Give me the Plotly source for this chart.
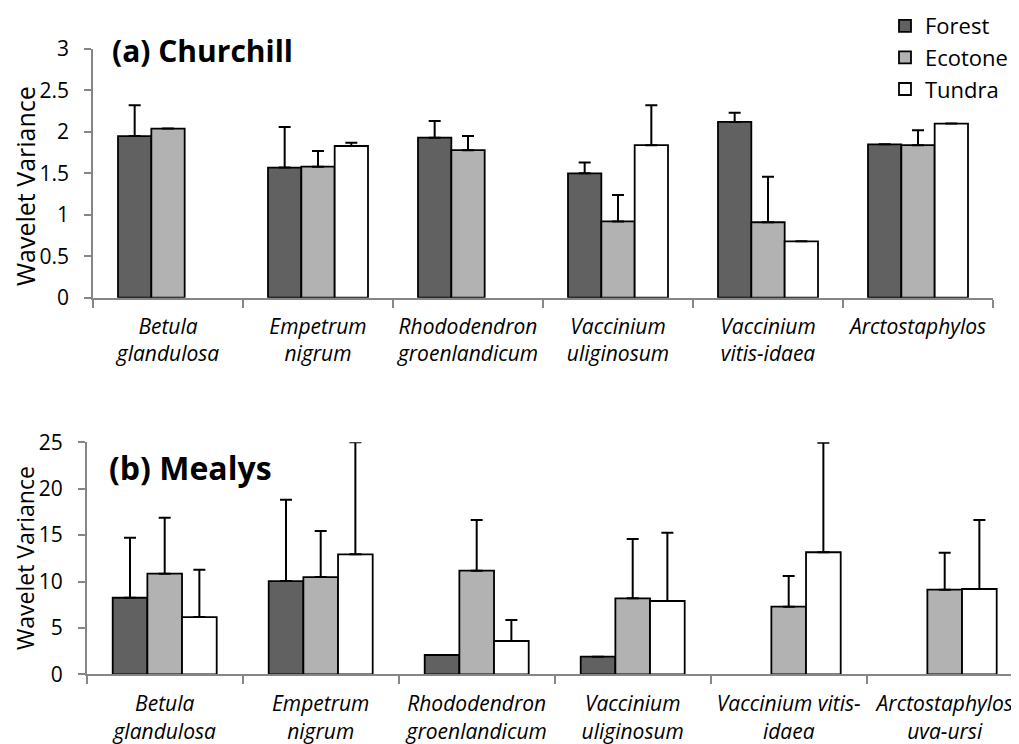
import plotly.graph_objects as go

W, H = 1019, 744
OFF = 8  # page body margin offset in the browser

species_top = ["Betula glandulosa", "Empetrum nigrum", "Rhododendron groenlandicum",
               "Vaccinium uliginosum", "Vaccinium vitis-idaea", "Arctostaphylos"]
labels_top = ["<i>Betula</i><br><i>glandulosa</i>", "<i>Empetrum</i><br><i>nigrum</i>",
              "<i>Rhododendron</i><br><i>groenlandicum</i>", "<i>Vaccinium</i><br><i>uliginosum</i>",
              "<i>Vaccinium</i><br><i>vitis-idaea</i>", "<i>Arctostaphylos</i>"]

species_bot = ["Betula glandulosa", "Empetrum nigrum", "Rhododendron groenlandicum",
               "Vaccinium uliginosum", "Vaccinium vitis-idaea", "Arctostaphylos uva-ursi"]
labels_bot = ["<i>Betula</i><br><i>glandulosa</i>", "<i>Empetrum</i><br><i>nigrum</i>",
              "<i>Rhododendron</i><br><i>groenlandicum</i>", "<i>Vaccinium</i><br><i>uliginosum</i>",
              "<i>Vaccinium vitis-</i><br><i>idaea</i>", "<i>Arctostaphylos</i><br><i>uva-ursi</i>"]

yticks_top = [0, 0.5, 1, 1.5, 2, 2.5, 3]
yticklabels_top = ["0", "0.5", "1", "1.5", "2", "2.5", "3"]
yticks_bot = [0, 5, 10, 15, 20, 25]
yticklabels_bot = ["0", "5", "10", "15", "20", "25"]

# (a) Churchill
forest_a = [1.95, 1.57, 1.93, 1.50, 2.12, 1.85]
forest_a_err = [0.37, 0.49, 0.20, 0.13, 0.11, None]
ecotone_a = [2.04, 1.58, 1.78, 0.92, 0.91, 1.84]
ecotone_a_err = [None, 0.19, 0.17, 0.32, 0.55, 0.18]
tundra_a = [None, 1.83, None, 1.84, 0.68, 2.10]
tundra_a_err = [None, 0.04, None, 0.48, None, None]

# (b) Mealys
forest_b = [8.25, 10.05, 2.08, 1.90, None, None]
forest_b_err = [6.47, 8.77, None, None, None, None]
ecotone_b = [10.84, 10.48, 11.17, 8.19, 7.29, 9.12]
ecotone_b_err = [6.04, 4.96, 5.46, 6.39, 3.30, 3.98]
tundra_b = [6.17, 12.93, 3.59, 7.90, 13.15, 9.19]
tundra_b_err = [5.10, 12.07, 2.26, 7.36, 11.81, 7.44]

series_names = ["Forest", "Ecotone", "Tundra"]
colors = ["#616161", "#b2b2b2", "#ffffff"]
y_title = "Wavelet Variance"

FONT = "Open Sans"
PAD = "\u00a0\u00a0"

fig = go.Figure()

def add_bars(xcats, vals_list, errs_list, xa, ya, showlegend):
    for name, col, vals, errs in zip(series_names, colors, vals_list, errs_list):
        fig.add_trace(go.Bar(
            x=xcats, y=vals, name=name, legendgroup=name, showlegend=showlegend,
            marker=dict(color=col, line=dict(color="#000000", width=1.8)),
            error_y=dict(type="data", symmetric=False, array=errs,
                         arrayminus=[0] * len(errs), color="#000000",
                         thickness=2, width=6),
            xaxis=xa, yaxis=ya,
        ))

add_bars(species_top, [forest_a, ecotone_a, tundra_a],
         [forest_a_err, ecotone_a_err, tundra_a_err], "x", "y", True)
add_bars(species_bot, [forest_b, ecotone_b, tundra_b],
         [forest_b_err, ecotone_b_err, tundra_b_err], "x2", "y2", False)

axcol = "#868686"
tickfont = dict(family=FONT, size=21, color="#000000")
xtickfont = dict(family=FONT, size=21, color="#000000")

def px_x(p):
    return (p - OFF) / W

def px_y(p):
    return 1 - (p - OFF) / H

b_left = 86.7
b_cat = 156.0
b_range_end = -0.5 + (W + OFF - b_left) / b_cat

common_x = dict(tickson="boundaries", ticks="outside", ticklen=8, tickcolor=axcol, tickwidth=1.5,
                showline=True, linecolor=axcol, linewidth=1.8, automargin=False, tickangle=0,
                showgrid=False, zeroline=False, tickfont=xtickfont)
common_y = dict(ticks="outside", ticklen=7, tickcolor=axcol, tickwidth=1.5,
                showline=True, linecolor=axcol, linewidth=1.8, automargin=False,
                showgrid=False, zeroline=False, tickfont=tickfont)

fig.update_layout(
    width=W, height=H,
    margin=dict(l=0, r=0, t=0, b=0, autoexpand=False),
    paper_bgcolor="white", plot_bgcolor="white",
    barmode="group", bargap=1/3, bargroupgap=0,
    font=dict(family=FONT, color="#000000"),
    xaxis=dict(domain=[px_x(93), px_x(993)], anchor="y",
               categoryorder="array", categoryarray=species_top,
               tickmode="array", tickvals=species_top, ticktext=labels_top,
               range=[-0.5, 5.5], ticklabelstandoff=9, **common_x),
    yaxis=dict(domain=[px_y(297.7), px_y(49)], anchor="x",
               range=[0, 3], tickmode="array", tickvals=yticks_top,
               ticktext=[t + PAD for t in yticklabels_top],
               **common_y),
    xaxis2=dict(domain=[px_x(b_left), 1.0], anchor="y2",
                categoryorder="array", categoryarray=species_bot,
                tickmode="array", tickvals=species_bot, ticktext=labels_bot,
                range=[-0.5, b_range_end], ticklabelstandoff=10, **common_x),
    yaxis2=dict(domain=[px_y(674.3), px_y(442.3)], anchor="x2",
                range=[0, 25], tickmode="array", tickvals=yticks_bot,
                ticktext=[t + PAD for t in yticklabels_bot],
                **common_y),
    legend=dict(x=px_x(885), y=px_y(5), xanchor="left", yanchor="top",
                font=dict(family=FONT, size=22, color="#000000"),
                bgcolor="rgba(0,0,0,0)", tracegroupgap=0, itemwidth=30),
    annotations=[
        dict(text="<b>(a) Churchill</b>", x=px_x(110), y=px_y(51), xref="paper", yref="paper",
             xanchor="left", yanchor="middle", showarrow=False,
             font=dict(family=FONT, size=30, color="#000000")),
        dict(text="<b>(b) Mealys</b>", x=px_x(107), y=px_y(467), xref="paper", yref="paper",
             xanchor="left", yanchor="middle", showarrow=False,
             font=dict(family=FONT, size=32, color="#000000")),
        dict(text=y_title, textangle=-90, x=px_x(25), y=px_y(186), xref="paper", yref="paper",
             xanchor="center", yanchor="middle", showarrow=False,
             font=dict(family=FONT, size=25, color="#000000")),
        dict(text=y_title, textangle=-90, x=px_x(25), y=px_y(558), xref="paper", yref="paper",
             xanchor="center", yanchor="middle", showarrow=False,
             font=dict(family=FONT, size=23, color="#000000")),
    ],
)

fig.write_html("out.html")
